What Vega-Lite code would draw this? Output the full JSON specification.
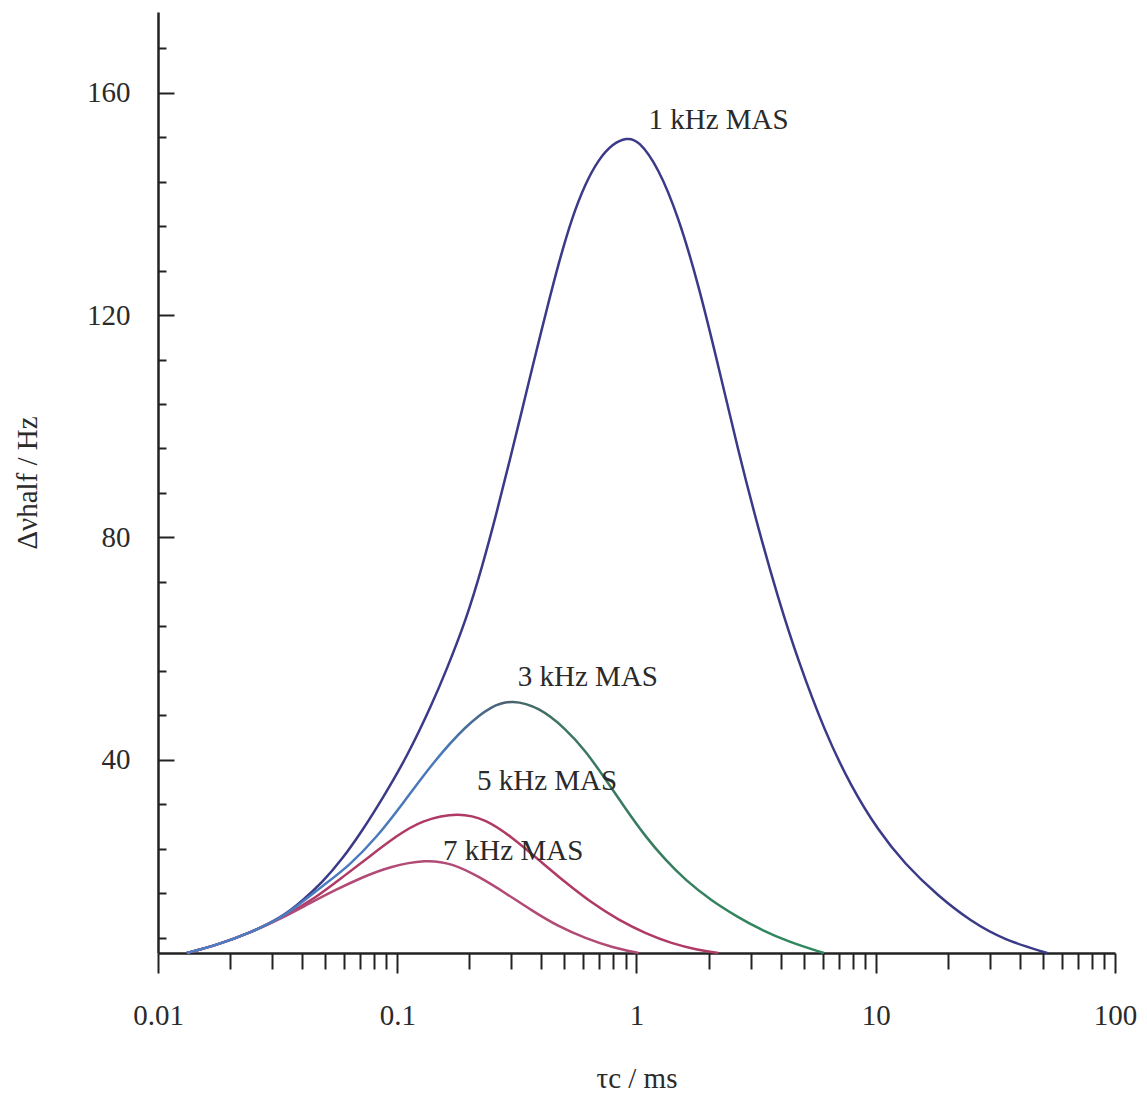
{
  "$schema": "https://vega.github.io/schema/vega-lite/v6.json",
  "width": 957,
  "height": 941,
  "autosize": "none",
  "padding": {"left": 158, "top": 12, "right": 32, "bottom": 148},
  "background": "white",
  "config": {
    "view": {"stroke": null},
    "font": "Liberation Serif",
    "axis": {
      "grid": false,
      "domainColor": "#222222",
      "domainWidth": 2.5,
      "tickColor": "#222222",
      "tickWidth": 2,
      "labelFont": "Liberation Serif",
      "labelFontSize": 29,
      "labelColor": "#2a2a2a",
      "titleFont": "Liberation Serif",
      "titleFontSize": 29,
      "titleFontWeight": "normal",
      "titleColor": "#2a2a2a",
      "labelOverlap": false,
      "labelFlush": false
    }
  },
  "datasets": {
    "curves": [
      {"series": "1 kHz MAS", "tau": 0.0132, "dv": 5.27},
      {"series": "1 kHz MAS", "tau": 0.0176, "dv": 6.71},
      {"series": "1 kHz MAS", "tau": 0.0242, "dv": 8.87},
      {"series": "1 kHz MAS", "tau": 0.0332, "dv": 11.75},
      {"series": "1 kHz MAS", "tau": 0.0402, "dv": 14.7},
      {"series": "1 kHz MAS", "tau": 0.0487, "dv": 18.0},
      {"series": "1 kHz MAS", "tau": 0.059, "dv": 22.2},
      {"series": "1 kHz MAS", "tau": 0.0715, "dv": 27.3},
      {"series": "1 kHz MAS", "tau": 0.0866, "dv": 33.0},
      {"series": "1 kHz MAS", "tau": 0.110, "dv": 40.6},
      {"series": "1 kHz MAS", "tau": 0.140, "dv": 50.1},
      {"series": "1 kHz MAS", "tau": 0.160, "dv": 56.0},
      {"series": "1 kHz MAS", "tau": 0.194, "dv": 65.2},
      {"series": "1 kHz MAS", "tau": 0.226, "dv": 74.6},
      {"series": "1 kHz MAS", "tau": 0.2585, "dv": 83.9},
      {"series": "1 kHz MAS", "tau": 0.293, "dv": 93.3},
      {"series": "1 kHz MAS", "tau": 0.332, "dv": 102.8},
      {"series": "1 kHz MAS", "tau": 0.365, "dv": 110.2},
      {"series": "1 kHz MAS", "tau": 0.418, "dv": 120.4},
      {"series": "1 kHz MAS", "tau": 0.473, "dv": 129.4},
      {"series": "1 kHz MAS", "tau": 0.536, "dv": 137.4},
      {"series": "1 kHz MAS", "tau": 0.613, "dv": 143.8},
      {"series": "1 kHz MAS", "tau": 0.695, "dv": 148.0},
      {"series": "1 kHz MAS", "tau": 0.794, "dv": 150.8},
      {"series": "1 kHz MAS", "tau": 0.909, "dv": 151.9},
      {"series": "1 kHz MAS", "tau": 1.019, "dv": 151.5},
      {"series": "1 kHz MAS", "tau": 1.235, "dv": 146.5},
      {"series": "1 kHz MAS", "tau": 1.496, "dv": 137.7},
      {"series": "1 kHz MAS", "tau": 1.813, "dv": 125.6},
      {"series": "1 kHz MAS", "tau": 2.197, "dv": 110.9},
      {"series": "1 kHz MAS", "tau": 2.661, "dv": 95.6},
      {"series": "1 kHz MAS", "tau": 3.224, "dv": 81.7},
      {"series": "1 kHz MAS", "tau": 3.906, "dv": 69.1},
      {"series": "1 kHz MAS", "tau": 4.732, "dv": 57.9},
      {"series": "1 kHz MAS", "tau": 6.131, "dv": 45.0},
      {"series": "1 kHz MAS", "tau": 7.866, "dv": 35.3},
      {"series": "1 kHz MAS", "tau": 10.19, "dv": 27.4},
      {"series": "1 kHz MAS", "tau": 13.21, "dv": 21.3},
      {"series": "1 kHz MAS", "tau": 18.13, "dv": 15.6},
      {"series": "1 kHz MAS", "tau": 24.88, "dv": 11.0},
      {"series": "1 kHz MAS", "tau": 34.47, "dv": 7.6},
      {"series": "1 kHz MAS", "tau": 52.1, "dv": 5.27},

      {"series": "3 kHz MAS", "tau": 0.0132, "dv": 5.27},
      {"series": "3 kHz MAS", "tau": 0.0176, "dv": 6.71},
      {"series": "3 kHz MAS", "tau": 0.0242, "dv": 8.87},
      {"series": "3 kHz MAS", "tau": 0.0332, "dv": 11.7},
      {"series": "3 kHz MAS", "tau": 0.0402, "dv": 14.5},
      {"series": "3 kHz MAS", "tau": 0.0487, "dv": 17.3},
      {"series": "3 kHz MAS", "tau": 0.0631, "dv": 21.0},
      {"series": "3 kHz MAS", "tau": 0.0818, "dv": 26.0},
      {"series": "3 kHz MAS", "tau": 0.1049, "dv": 32.0},
      {"series": "3 kHz MAS", "tau": 0.1426, "dv": 39.8},
      {"series": "3 kHz MAS", "tau": 0.194, "dv": 46.2},
      {"series": "3 kHz MAS", "tau": 0.249, "dv": 49.8},
      {"series": "3 kHz MAS", "tau": 0.3015, "dv": 50.8},
      {"series": "3 kHz MAS", "tau": 0.391, "dv": 49.5},
      {"series": "3 kHz MAS", "tau": 0.506, "dv": 45.6},
      {"series": "3 kHz MAS", "tau": 0.613, "dv": 41.6},
      {"series": "3 kHz MAS", "tau": 0.743, "dv": 36.5},
      {"series": "3 kHz MAS", "tau": 0.900, "dv": 31.2},
      {"series": "3 kHz MAS", "tau": 1.090, "dv": 26.2},
      {"series": "3 kHz MAS", "tau": 1.321, "dv": 22.0},
      {"series": "3 kHz MAS", "tau": 1.600, "dv": 18.4},
      {"series": "3 kHz MAS", "tau": 2.054, "dv": 14.7},
      {"series": "3 kHz MAS", "tau": 2.661, "dv": 11.7},
      {"series": "3 kHz MAS", "tau": 3.224, "dv": 9.7},
      {"series": "3 kHz MAS", "tau": 4.30, "dv": 7.3},
      {"series": "3 kHz MAS", "tau": 6.07, "dv": 5.27},

      {"series": "5 kHz MAS", "tau": 0.0132, "dv": 5.27},
      {"series": "5 kHz MAS", "tau": 0.0176, "dv": 6.71},
      {"series": "5 kHz MAS", "tau": 0.0242, "dv": 8.87},
      {"series": "5 kHz MAS", "tau": 0.0332, "dv": 11.7},
      {"series": "5 kHz MAS", "tau": 0.046, "dv": 15.3},
      {"series": "5 kHz MAS", "tau": 0.059, "dv": 18.9},
      {"series": "5 kHz MAS", "tau": 0.0764, "dv": 22.6},
      {"series": "5 kHz MAS", "tau": 0.099, "dv": 26.3},
      {"series": "5 kHz MAS", "tau": 0.127, "dv": 29.2},
      {"series": "5 kHz MAS", "tau": 0.181, "dv": 30.6},
      {"series": "5 kHz MAS", "tau": 0.235, "dv": 29.3},
      {"series": "5 kHz MAS", "tau": 0.3015, "dv": 26.1},
      {"series": "5 kHz MAS", "tau": 0.391, "dv": 22.0},
      {"series": "5 kHz MAS", "tau": 0.506, "dv": 17.9},
      {"series": "5 kHz MAS", "tau": 0.649, "dv": 14.3},
      {"series": "5 kHz MAS", "tau": 0.841, "dv": 11.2},
      {"series": "5 kHz MAS", "tau": 1.090, "dv": 8.8},
      {"series": "5 kHz MAS", "tau": 1.399, "dv": 7.0},
      {"series": "5 kHz MAS", "tau": 1.813, "dv": 5.8},
      {"series": "5 kHz MAS", "tau": 2.197, "dv": 5.27},

      {"series": "7 kHz MAS", "tau": 0.0132, "dv": 5.27},
      {"series": "7 kHz MAS", "tau": 0.0176, "dv": 6.71},
      {"series": "7 kHz MAS", "tau": 0.0242, "dv": 8.87},
      {"series": "7 kHz MAS", "tau": 0.0332, "dv": 11.6},
      {"series": "7 kHz MAS", "tau": 0.043, "dv": 14.2},
      {"series": "7 kHz MAS", "tau": 0.0557, "dv": 16.7},
      {"series": "7 kHz MAS", "tau": 0.0715, "dv": 18.9},
      {"series": "7 kHz MAS", "tau": 0.0926, "dv": 20.8},
      {"series": "7 kHz MAS", "tau": 0.132, "dv": 22.1},
      {"series": "7 kHz MAS", "tau": 0.1695, "dv": 21.4},
      {"series": "7 kHz MAS", "tau": 0.2197, "dv": 19.0},
      {"series": "7 kHz MAS", "tau": 0.2846, "dv": 16.0},
      {"series": "7 kHz MAS", "tau": 0.365, "dv": 12.9},
      {"series": "7 kHz MAS", "tau": 0.473, "dv": 10.0},
      {"series": "7 kHz MAS", "tau": 0.613, "dv": 7.9},
      {"series": "7 kHz MAS", "tau": 0.787, "dv": 6.3},
      {"series": "7 kHz MAS", "tau": 1.019, "dv": 5.27}
    ],
    "labels": [
      {"label": "1 kHz MAS", "tau": 1.122, "dv": 155.0},
      {"label": "3 kHz MAS", "tau": 0.319, "dv": 54.9},
      {"label": "5 kHz MAS", "tau": 0.2154, "dv": 36.2},
      {"label": "7 kHz MAS", "tau": 0.1555, "dv": 23.6}
    ]
  },
  "layer": [
    {
      "data": {"name": "curves"},
      "transform": [{"filter": "datum.series !== '3 kHz MAS'"}],
      "mark": {"type": "line", "strokeWidth": 2.5, "interpolate": "basis"},
      "encoding": {
        "x": {
          "field": "tau",
          "type": "quantitative",
          "scale": {"type": "log", "domain": [0.01, 100], "nice": false},
          "axis": {
            "title": "τc / ms",
            "values": [0.01, 0.02, 0.03, 0.04, 0.05, 0.06, 0.07, 0.08, 0.09, 0.1, 0.2, 0.3, 0.4, 0.5, 0.6, 0.7, 0.8, 0.9, 1, 2, 3, 4, 5, 6, 7, 8, 9, 10, 20, 30, 40, 50, 60, 70, 80, 90, 100],
            "format": "~g",
            "labelExpr": "abs(log(datum.value)/LN10 - round(log(datum.value)/LN10)) < 0.000001 ? datum.label : ''",
            "tickSize": {"condition": {"test": "abs(log(datum.value)/LN10 - round(log(datum.value)/LN10)) < 0.000001", "value": 20}, "value": 16},
            "labelPadding": 28,
            "labelBaseline": "top",
            "titlePadding": 34
          }
        },
        "y": {
          "field": "dv",
          "type": "quantitative",
          "scale": {"domain": [5.27, 174.5], "nice": false, "zero": false},
          "axis": {
            "title": "Δνhalf / Hz",
            "values": [8, 16, 24, 32, 40, 48, 56, 64, 72, 80, 88, 96, 104, 112, 120, 128, 136, 144, 152, 160, 168],
            "labelExpr": "datum.value % 40 === 0 ? datum.label : ''",
            "tickSize": {"condition": {"test": "datum.value % 40 === 0", "value": -16}, "value": -8},
            "labelPadding": 44,
            "titlePadding": 44
          }
        },
        "color": {
          "field": "series",
          "type": "nominal",
          "scale": {"domain": ["1 kHz MAS", "5 kHz MAS", "7 kHz MAS"], "range": ["#3a3a88", "#b03a66", "#b24a76"]},
          "legend": null
        }
      }
    },
    {
      "data": {"name": "curves"},
      "transform": [{"filter": "datum.series === '3 kHz MAS'"}],
      "mark": {
        "type": "line",
        "strokeWidth": 2.5,
        "interpolate": "basis",
        "stroke": {
          "gradient": "linear",
          "x1": 0, "y1": 0, "x2": 1, "y2": 0,
          "stops": [
            {"offset": 0, "color": "#4a80c8"},
            {"offset": 0.4, "color": "#4a78b8"},
            {"offset": 0.5, "color": "#4a6070"},
            {"offset": 0.58, "color": "#3d7560"},
            {"offset": 1, "color": "#2e8a5e"}
          ]
        }
      },
      "encoding": {
        "x": {"field": "tau", "type": "quantitative"},
        "y": {"field": "dv", "type": "quantitative"}
      }
    },
    {
      "data": {"name": "labels"},
      "mark": {"type": "text", "align": "left", "baseline": "middle", "font": "Liberation Serif", "fontSize": 29, "color": "#2a2a2a"},
      "encoding": {
        "x": {"field": "tau", "type": "quantitative"},
        "y": {"field": "dv", "type": "quantitative"},
        "text": {"field": "label"}
      }
    }
  ]
}
